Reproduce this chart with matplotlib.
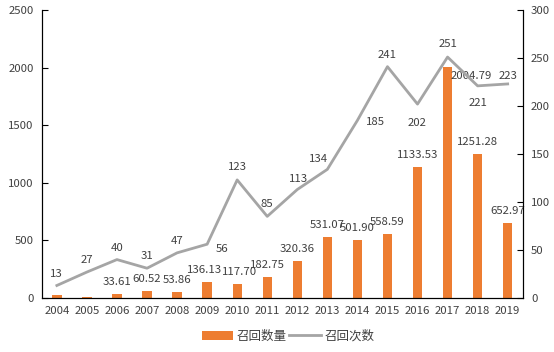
import matplotlib.pyplot as plt

plt.rcParams['font.family'] = ['Noto Sans CJK SC', 'DejaVu Sans']
plt.rcParams['font.size'] = 8.2

years = ['2004', '2005', '2006', '2007', '2008', '2009', '2010', '2011',
         '2012', '2013', '2014', '2015', '2016', '2017', '2018', '2019']
qty = [22, 6, 33.61, 60.52, 53.86, 136.13, 117.70, 182.75,
       320.36, 531.07, 501.90, 558.59, 1133.53, 2004.79, 1251.28, 652.97]
qty_show = [False, False] + [True] * 14
times = [13, 27, 40, 31, 47, 56, 123, 85, 113, 134, 185, 241, 202, 251, 221, 223]

txt = '#404040'
fig = plt.figure(figsize=(5.54, 3.52), dpi=100)
ax = fig.add_axes([0.0755, 0.1535, 0.868, 0.818])
ax2 = ax.twinx()

x = list(range(len(years)))
ax.bar(x, qty, width=0.31, color='#ED7D31', label='召回数量', zorder=2)
ax2.plot(x, times, color='#A5A5A5', lw=2.0, label='召回次数', zorder=3)

ax.set_xlim(-0.5, len(years) - 0.5)
ax.set_ylim(0, 2500)
ax2.set_ylim(0, 300)
ax.set_yticks(range(0, 2501, 500))
ax2.set_yticks(range(0, 301, 50))
ax.set_xticks(x)
ax.set_xticklabels(years)
for a in (ax, ax2):
    a.tick_params(labelcolor=txt, labelsize=8.2)
    for s in a.spines.values():
        s.set_color('black')
    a.spines['top'].set_visible(False)
ax.tick_params(axis='y', length=4, direction='in', color='black', pad=6)
ax2.tick_params(axis='y', length=4, direction='in', color='black', pad=6)
ax.tick_params(axis='x', length=0, pad=6)

# bar labels
bar_offs = {'2017': (17, -10), '2009': (-2, 5), '2010': (2, 5)}
for i, v in enumerate(qty):
    if not qty_show[i]:
        continue
    dx, dy = bar_offs.get(years[i], (0, 5))
    ax.annotate(f'{v:.2f}', (i, v), xytext=(dx, dy), textcoords='offset points',
                ha='center', va='bottom', color=txt)

# line labels
offs = {'2009': (11, -7), '2014': (13, -5), '2013': (-6, 4), '2012': (1, 4),
        '2016': (0, -17), '2018': (0, -16), '2019': (0, 2), '2010': (0, 6),
        '2017': (0, 6)}
for i, v in enumerate(times):
    dx, dy = offs.get(years[i], (0, 5))
    ax2.annotate(str(v), (i, v), xytext=(dx, dy), textcoords='offset points',
                 ha='center', va='bottom', color=txt)

h1, l1 = ax.get_legend_handles_labels()
h2, l2 = ax2.get_legend_handles_labels()
fig.legend(h1 + h2, l1 + l2, loc='center', bbox_to_anchor=(0.52, 0.045), ncol=2,
           frameon=False, fontsize=9, labelcolor=txt, handlelength=2.5,
           columnspacing=0.2, handletextpad=0.3)

fig.savefig('out.png', dpi=100)
